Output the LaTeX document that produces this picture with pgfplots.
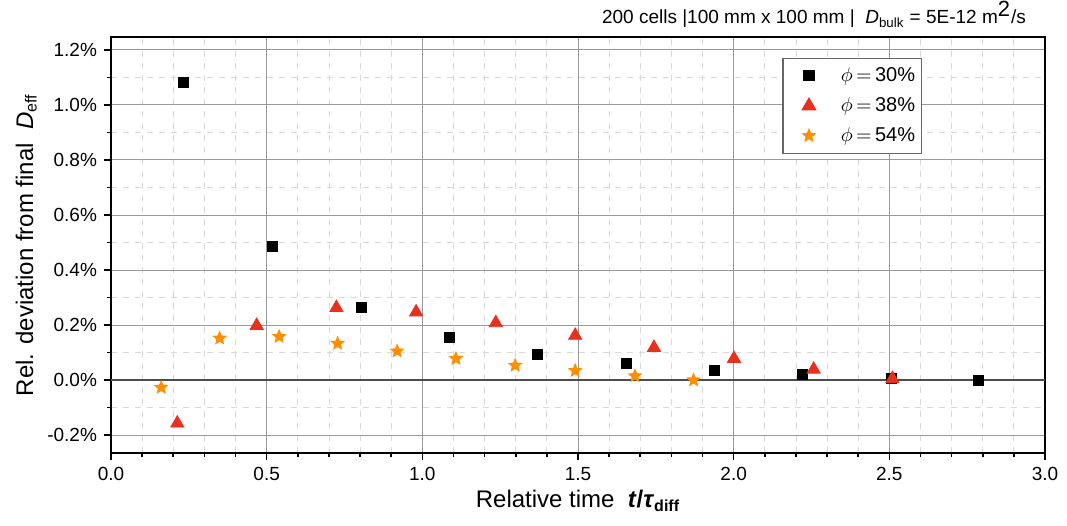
\documentclass[border=0pt]{standalone}
\usepackage{fontspec}
\setmainfont{Liberation Sans}
\usepackage{pgfplots}
\pgfplotsset{compat=1.18}
\definecolor{cred}{RGB}{232,48,30}
\definecolor{corange}{RGB}{255,143,0}
\pgfdeclareplotmark{fstar}{%
  \pgfpathmoveto{\pgfpointpolar{90}{\pgfplotmarksize}}%
  \pgfpathlineto{\pgfpointpolar{126}{0.45\pgfplotmarksize}}%
  \pgfpathlineto{\pgfpointpolar{162}{\pgfplotmarksize}}%
  \pgfpathlineto{\pgfpointpolar{198}{0.45\pgfplotmarksize}}%
  \pgfpathlineto{\pgfpointpolar{234}{\pgfplotmarksize}}%
  \pgfpathlineto{\pgfpointpolar{270}{0.45\pgfplotmarksize}}%
  \pgfpathlineto{\pgfpointpolar{306}{\pgfplotmarksize}}%
  \pgfpathlineto{\pgfpointpolar{342}{0.45\pgfplotmarksize}}%
  \pgfpathlineto{\pgfpointpolar{18}{\pgfplotmarksize}}%
  \pgfpathlineto{\pgfpointpolar{54}{0.45\pgfplotmarksize}}%
  \pgfpathclose
  \pgfusepathqfill}
\begin{document}
\begin{tikzpicture}
\begin{axis}[
  scale only axis, width=467pt, height=208pt,
  xmin=0, xmax=3, ymin=-0.265, ymax=1.247,
  xtick={0,0.5,1,1.5,2,2.5,3},
  ytick={-0.2,0,0.2,0.4,0.6,0.8,1.0,1.2},
  minor x tick num=4, minor y tick num=1,
  grid=both,
  major grid style={black!40, line width=0.5pt},
  minor grid style={black!15, dashed, line width=0.4pt},
  tick align=outside, tick pos=left,
  major tick length=3.5pt, minor tick length=2pt,
  every tick/.style={black, line width=0.8pt},
  axis line style={line width=0.9pt},
  /pgf/number format/assume math mode=true,
  xticklabel={\pgfmathprintnumber[fixed,fixed zerofill,precision=1]{\tick}},
  yticklabel={\pgfmathprintnumber[fixed,fixed zerofill,precision=1]{\tick}\%},
  ticklabel style={font=\fontsize{9.5}{11}\selectfont},
  extra y ticks={0}, extra y tick labels={},
  extra y tick style={grid=major, major grid style={black!70, line width=0.6pt}},
  every axis y label/.style={at={(axis description cs:-0.0835,0.5)}, rotate=90, anchor=base},
  every axis x label/.style={at={(axis description cs:0.5,-0.132)}, anchor=base},
  label style={font=\fontsize{12}{14}\selectfont},
  ylabel={Rel. deviation from final \ \textit{D}\textsubscript{eff}},
  xlabel={Relative time \ \textbf{\textit{t}/\textit{τ}}\textsubscript{\textbf{diff}}},
  legend style={at={(rel axis cs:0.868,0.95)}, anchor=north east, draw=black!60, line width=0.6pt,
    font=\fontsize{10}{12}\selectfont, row sep=2.5pt, inner xsep=1pt, inner ysep=2.5pt,
    /tikz/every odd column/.style={column sep=6pt}},
  legend image code/.code={%
    \path[draw=none,fill=none] (0pt,-1pt) -- (20pt,-1pt);
    \draw[#1] plot coordinates {(12pt,0pt)};},
  legend cell align=left,
  clip=false,
]
\addplot[only marks, mark=square*, mark size=2.5pt, black] coordinates {
(0.234,1.081) (0.519,0.487) (0.805,0.263) (1.086,0.154) (1.369,0.095)
(1.655,0.059) (1.937,0.036) (2.221,0.021) (2.505,0.005) (2.785,0.0)};
\addlegendentry{$\phi\,{=}\,$30\%}
\addplot[only marks, mark=triangle*, mark size=3.8pt, cred] coordinates {
(0.213,-0.157) (0.468,0.198) (0.724,0.263) (0.980,0.247) (1.236,0.208)
(1.491,0.162) (1.744,0.118) (2.001,0.078) (2.257,0.039) (2.510,0.005)};
\addlegendentry{$\phi\,{=}\,$38\%}
\addplot[only marks, mark=fstar, mark size=3.9pt, corange, mark options={fill=corange}] coordinates {
(0.161,-0.027) (0.349,0.152) (0.540,0.158) (0.728,0.133) (0.919,0.105)
(1.108,0.078) (1.298,0.053) (1.491,0.034) (1.683,0.015) (1.871,0.0)};
\addlegendentry{$\phi\,{=}\,$54\%}
\coordinate (bl) at (rel axis cs:0,0);
\coordinate (tr) at (rel axis cs:1,1);
\node[anchor=base east, font=\fontsize{9.5}{11}\selectfont] at ([xshift=-6pt,yshift=6.5pt]rel axis cs:1,1)
  {200 cells |100 mm x 100 mm | \ \textit{D}\textsubscript{bulk} = 5E-12 m\textsuperscript{\fontsize{11}{11}\selectfont 2}/s};
\end{axis}
\pgfresetboundingbox
\path[use as bounding box] ([xshift=-55.5pt,yshift=-36pt]bl) rectangle ([xshift=11pt,yshift=18.5pt]tr);
\end{tikzpicture}
\end{document}
